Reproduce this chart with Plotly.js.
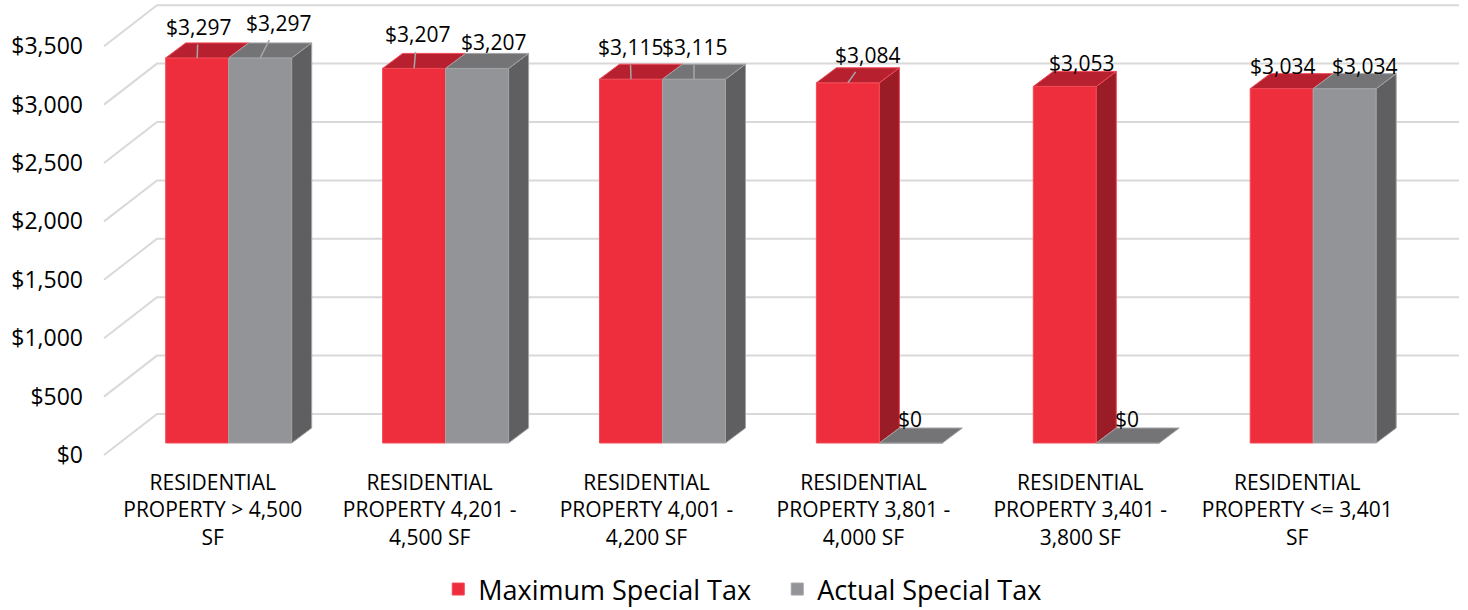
<!DOCTYPE html>
<html>
<head>
<meta charset="utf-8">
<script src="https://cdn.plot.ly/plotly-3.0.1.min.js"></script>
<style>
html,body{margin:0;padding:0;background:#fff;}
#chart{width:1468px;height:610px;}
</style>
</head>
<body>
<div id="chart"></div>
<script>
// ---------- data ----------
const categories = [
  "RESIDENTIAL<br>PROPERTY &gt; 4,500<br>SF",
  "RESIDENTIAL<br>PROPERTY 4,201 -<br>4,500 SF",
  "RESIDENTIAL<br>PROPERTY 4,001 -<br>4,200 SF",
  "RESIDENTIAL<br>PROPERTY 3,801 -<br>4,000 SF",
  "RESIDENTIAL<br>PROPERTY 3,401 -<br>3,800 SF",
  "RESIDENTIAL<br>PROPERTY &lt;= 3,401<br>SF"
];
const maximumSpecialTax = [3297, 3207, 3115, 3084, 3053, 3034];
const actualSpecialTax  = [3297, 3207, 3115, 0, 0, 3034];
const seriesNames = ["Maximum Special Tax", "Actual Special Tax"];
const yTickValues = [0, 500, 1000, 1500, 2000, 2500, 3000, 3500];

// ---------- label placement (pixel offsets from each bar's front-top centre, as in the source) ----------
const labelOffsetX = [[1, 3, -1, 20, 17, 1], [18, 16, 0, -1, -1, 20]];
const labelOffsetY = [[-31, -34, -32, -28, -23, -23], [-35, -26, -32, -24, -24, -23]];
const labelLeader  = [[true, true, true, true, false, false], [true, false, true, false, false, false]];

// ---------- geometry (pixel calibration of the oblique view) ----------
const W = 1468, H = 610;
const M = {l: 92, r: 0, t: 0, b: 148, autoexpand: false};
const PX_PER_CAT = 216.9, CAT0_PX = 228.7;     // bar-front plane
const PX_PER_UNIT = 0.1168, ZERO_PY = 443;      // bar-front plane
const plotBottomPy = H - M.b;
const xr = [(M.l - CAT0_PX) / PX_PER_CAT, (W - M.r - CAT0_PX) / PX_PER_CAT];
const yr = [(ZERO_PY - plotBottomPy) / PX_PER_UNIT, (ZERO_PY - M.t) / PX_PER_UNIT];
const px2x = p => p / PX_PER_CAT;   // pixel offset -> x units
const px2y = p => p / PX_PER_UNIT;  // pixel offset -> y units

const BAR_W = px2x(63);
const DEPTH_X = px2x(20), DEPTH_Y = px2y(15);          // bar depth
const AXIS_X = px2x(-16), AXIS_Y = px2y(-12);          // front (axis) plane
const WALL_X = px2x(37), WALL_Y = px2y(29);            // back wall
const WALL_LEFT_X = (104 - CAT0_PX) / PX_PER_CAT;      // front-left edge of side wall
const WALL_RIGHT_X = (1459 - CAT0_PX) / PX_PER_CAT;

const colors = {
  redFront: "#EE2E3D", redTop: "#B7212F", redSide: "#9A1C26", redEdge: "#F24A57",
  grayFront: "#939497", grayTop: "#747476", graySide: "#5F5F61", grayEdge: "#A3A4A6",
  grid: "#D9D9D9", leader: "#A6A6A6"
};
const FONT = "'Open Sans', Lato, sans-serif";

const idx = categories.map((_, i) => i);
const offsets = [-BAR_W, 0];
const series = [maximumSpecialTax, actualSpecialTax];

// ---------- faces ----------
function topFaces(vals, off) {
  const xs = [], ys = [];
  vals.forEach((v, i) => {
    const L = i + off, R = L + BAR_W;
    xs.push(L, R, R + DEPTH_X, L + DEPTH_X, L, null);
    ys.push(v, v, v + DEPTH_Y, v + DEPTH_Y, v, null);
  });
  return {xs, ys};
}
function sideFaces(vals, off, hideBy) {
  const xs = [], ys = [];
  vals.forEach((v, i) => {
    const R = i + off + BAR_W;
    const base = hideBy ? Math.min(hideBy[i], v) : 0;
    if (v - base <= 0) return;
    xs.push(R, R, R + DEPTH_X, R + DEPTH_X, R, null);
    ys.push(base, v, v + DEPTH_Y, base + DEPTH_Y, base, null);
  });
  return {xs, ys};
}
function poly(f, fill, edge) {
  return {type: "scatter", mode: "lines", x: f.xs, y: f.ys, fill: "toself",
    fillcolor: fill, line: {color: edge, width: 1}, hoverinfo: "skip", showlegend: false};
}

const traces = [
  {type: "bar", name: seriesNames[0], x: idx, y: maximumSpecialTax, width: BAR_W, offset: offsets[0],
   marker: {color: colors.redFront, line: {color: colors.redEdge, width: 1}}},
  {type: "bar", name: seriesNames[1], x: idx, y: actualSpecialTax, width: BAR_W, offset: offsets[1],
   marker: {color: colors.grayFront, line: {color: colors.grayEdge, width: 1}}},
  poly(sideFaces(maximumSpecialTax, offsets[0], actualSpecialTax), colors.redSide, colors.redEdge),
  poly(topFaces(maximumSpecialTax, offsets[0]), colors.redTop, colors.redEdge),
  poly(sideFaces(actualSpecialTax, offsets[1], null), colors.graySide, colors.grayEdge),
  poly(topFaces(actualSpecialTax, offsets[1]), colors.grayTop, colors.grayEdge)
];

// ---------- gridlines (side wall + back wall) ----------
const shapes = yTickValues.map(v => ({
  type: "path", xref: "x", yref: "y", layer: "below",
  path: `M ${WALL_LEFT_X},${v + AXIS_Y} L ${WALL_LEFT_X + WALL_X - AXIS_X},${v + WALL_Y} L ${WALL_RIGHT_X},${v + WALL_Y}`,
  line: {color: colors.grid, width: 2}
}));

// ---------- data labels ----------
const fmt = v => "$" + v.toLocaleString("en-US");
const annotations = [];
series.forEach((vals, s) => {
  vals.forEach((v, i) => {
    annotations.push({
      xref: "x", yref: "y", x: i + offsets[s] + BAR_W / 2, y: v,
      text: fmt(v), showarrow: true, arrowhead: 0, arrowwidth: 1.5,
      arrowcolor: labelLeader[s][i] ? colors.leader : "rgba(0,0,0,0)",
      standoff: 0, startstandoff: 2,
      axref: "pixel", ayref: "pixel", ax: labelOffsetX[s][i], ay: labelOffsetY[s][i],
      font: {family: FONT, size: 21, color: "#000"}
    });
  });
});

const layout = {
  width: W, height: H, margin: M,
  paper_bgcolor: "#fff", plot_bgcolor: "rgba(0,0,0,0)",
  barmode: "overlay",
  showlegend: true,
  legend: {orientation: "h", x: 0.498, xanchor: "center", y: (plotBottomPy - 614) / (plotBottomPy - M.t), yanchor: "bottom",
    entrywidth: 294, entrywidthmode: "pixels",
    font: {family: FONT, size: 27, color: "#000"}, itemclick: false, itemdoubleclick: false, traceorder: "normal"},
  xaxis: {range: xr, showgrid: false, zeroline: false, showline: false, ticks: "",
    tickmode: "array", tickvals: idx.map(i => i + AXIS_X), ticktext: categories,
    tickfont: {family: FONT, size: 21, color: "#000"}, ticklabelstandoff: 6, fixedrange: true},
  yaxis: {range: yr, showgrid: false, zeroline: false, showline: false, ticks: "",
    tickmode: "array", tickvals: yTickValues.map(v => v + AXIS_Y), ticktext: yTickValues.map(fmt),
    tickfont: {family: FONT, size: 23, color: "#000"}, ticklabelstandoff: 8, fixedrange: true},
  shapes: shapes,
  annotations: annotations
};

Plotly.newPlot("chart", traces, layout, {displayModeBar: false, staticPlot: true});
</script>
</body>
</html>
